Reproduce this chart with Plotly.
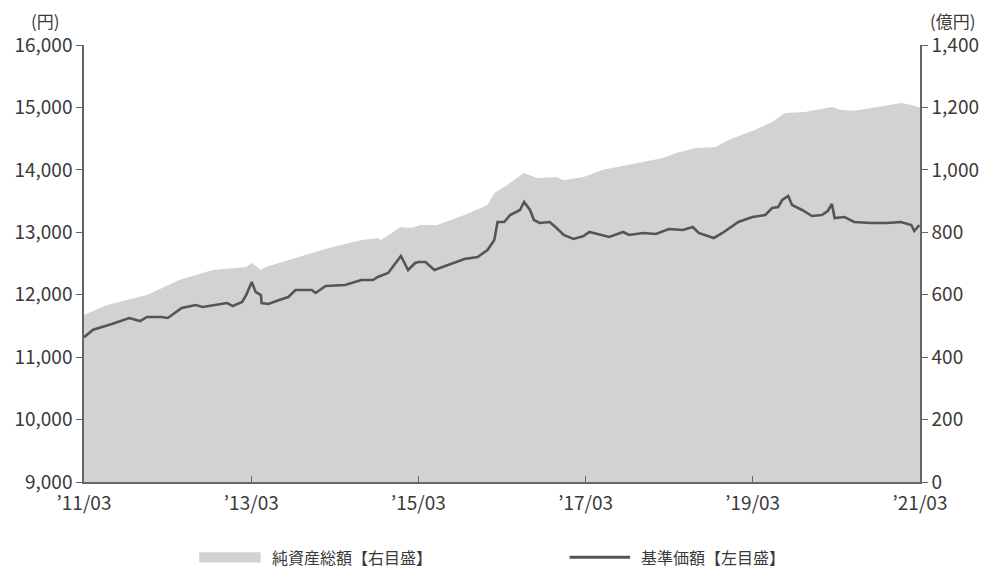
import plotly.graph_objects as go

# 基準価額 (円, left axis)
nav_dates = ["2011-03-01","2011-04-10","2011-07-01","2011-09-15","2011-11-01","2011-12-01","2012-02-01","2012-03-01",
 "2012-05-01","2012-07-01","2012-08-01","2012-09-20","2012-11-15","2012-12-10","2013-01-20","2013-02-07","2013-03-03",
 "2013-03-20","2013-04-12","2013-04-15","2013-05-15","2013-07-01","2013-08-10","2013-09-10","2013-11-20","2013-12-07",
 "2014-01-20","2014-04-15","2014-06-25","2014-08-15","2014-09-05","2014-10-20","2014-12-15","2015-01-15","2015-02-15",
 "2015-03-01","2015-04-01","2015-05-10","2015-07-05","2015-09-18","2015-11-15","2015-12-28","2016-01-27","2016-02-10",
 "2016-03-10","2016-04-05","2016-05-18","2016-06-05","2016-07-01","2016-07-18","2016-08-12","2016-09-25","2016-10-25",
 "2016-11-25","2017-01-07","2017-02-20","2017-03-17","2017-04-17","2017-06-12","2017-08-12","2017-09-07","2017-11-07",
 "2018-01-02","2018-02-28","2018-04-30","2018-06-12","2018-07-08","2018-09-12","2018-10-20","2018-12-28","2019-02-28",
 "2019-04-25","2019-05-25","2019-06-20","2019-07-08","2019-08-03","2019-08-20","2019-10-03","2019-11-15","2019-12-28",
 "2020-01-23","2020-02-10","2020-02-22","2020-04-05","2020-05-18","2020-07-30","2020-10-08","2020-12-08","2021-01-22",
 "2021-02-04","2021-02-26"]
nav_values = [11320,11440,11530,11627,11579,11643,11643,11627,
 11787,11835,11803,11835,11867,11819,11883,11995,12204,
 12044,11995,11867,11851,11915,11963,12076,12076,12028,
 12140,12156,12236,12236,12284,12348,12620,12396,12508,
 12524,12524,12396,12476,12572,12604,12716,12876,13165,
 13165,13277,13357,13485,13357,13197,13149,13165,13069,
 12957,12893,12941,13005,12973,12925,13005,12957,12989,
 12973,13053,13037,13085,12989,12909,12989,13165,13245,
 13277,13389,13405,13517,13581,13437,13357,13261,13277,
 13341,13453,13229,13245,13165,13149,13149,13165,13117,
 13021,13117]

# 純資産総額 (億円, right axis)
aum_dates = ["2011-03-01","2011-06-10","2011-12-01","2012-04-20","2012-09-12","2013-02-07","2013-03-03","2013-04-12",
 "2013-05-03","2013-09-12","2014-02-03","2014-06-25","2014-09-06","2014-09-18","2014-12-15","2015-01-28","2015-03-10",
 "2015-05-22","2015-09-18","2015-12-27","2016-01-27","2016-03-22","2016-06-04","2016-08-01","2016-10-25","2016-11-25",
 "2017-02-20","2017-05-15","2017-09-07","2018-02-03","2018-04-01","2018-06-25","2018-09-20","2018-11-15","2019-03-10",
 "2019-05-25","2019-07-20","2019-10-15","2020-02-10","2020-03-22","2020-05-18","2020-10-10","2020-12-10","2021-01-22",
 "2021-02-18","2021-03-01"]
aum_values = [535,567,599,647,679,689,702,679,
 689,718,750,775,782,775,817,814,823,
 823,855,887,926,951,990,974,977,967,
 977,1000,1016,1038,1054,1070,1073,1096,1128,
 1153,1182,1185,1201,1192,1189,1208,1214,1208,
 1201,1200]

x_tickvals = ["2011-03-01","2013-03-01","2015-03-01","2017-03-01","2019-03-01","2021-03-01"]
x_ticktext = ["’11/03","’13/03","’15/03","’17/03","’19/03","’21/03"]
left_ticks = [9000,10000,11000,12000,13000,14000,15000,16000]
right_ticks = [0,200,400,600,800,1000,1200,1400]

legend_labels = ["純資産総額【右目盛】", "基準価額【左目盛】"]

FONT = "Noto Sans CJK JP"
AREA = "#d1d2d4"
LINE = "#555555"
AX = "#666666"
TXT = "#3a3a3a"

fig = go.Figure()
fig.add_trace(go.Scatter(x=aum_dates, y=aum_values, yaxis="y", mode="lines",
                         line=dict(width=0, color=AREA), fill="tozeroy", fillcolor=AREA,
                         name=legend_labels[0], showlegend=False))
fig.add_trace(go.Scatter(x=nav_dates, y=nav_values, yaxis="y2", mode="lines",
                         line=dict(width=2.6, color=LINE), name=legend_labels[1], showlegend=False))

fig.update_layout(
    width=991, height=572,
    margin=dict(l=84, r=65, t=45, b=90),
    paper_bgcolor="white", plot_bgcolor="white",
    font=dict(family=FONT, size=19, color=TXT),
    xaxis=dict(range=["2011-03-01","2021-03-01"], tickvals=x_tickvals, ticktext=x_ticktext,
               showgrid=False, showline=True, linecolor=AX, linewidth=1.5,
               ticks="inside", ticklen=6, tickcolor=AX, zeroline=False, ticklabelstandoff=3),
    yaxis=dict(range=[0,1400], tickvals=right_ticks, tickformat=",d", side="right",
               showgrid=False, showline=True, linecolor=AX, linewidth=1.5,
               ticks="outside", ticklen=6, tickcolor=AX, zeroline=False),
    yaxis2=dict(range=[9000,16000], tickvals=left_ticks, tickformat=",d", side="left",
                overlaying="y", showgrid=False, showline=True, linecolor=AX, linewidth=1.5,
                ticks="outside", ticklen=6, tickcolor=AX, zeroline=False),
    showlegend=False,
)

fig.add_annotation(text="(円)", xref="paper", yref="paper", x=0, y=1, xanchor="right", yanchor="bottom",
                   xshift=-22, yshift=10, showarrow=False, font=dict(size=17, family=FONT, color=TXT))
fig.add_annotation(text="(億円)", xref="paper", yref="paper", x=1, y=1, xanchor="left", yanchor="bottom",
                   xshift=8, yshift=10, showarrow=False, font=dict(size=17, family=FONT, color=TXT))

# custom legend below the plot
fig.add_shape(type="rect", xref="paper", yref="paper", x0=(200-84)/842, x1=(262-84)/842,
              y0=-0.184, y1=-0.161, fillcolor=AREA, line=dict(width=0))
fig.add_annotation(text=legend_labels[0], xref="paper", yref="paper", x=(271-84)/842, y=-0.172,
                   xanchor="left", yanchor="middle", showarrow=False, font=dict(size=16, family=FONT, color=TXT))
fig.add_shape(type="line", xref="paper", yref="paper", x0=(573-84)/842, x1=(634-84)/842,
              y0=-0.172, y1=-0.172, line=dict(color=LINE, width=3))
fig.add_annotation(text=legend_labels[1], xref="paper", yref="paper", x=(643-84)/842, y=-0.172,
                   xanchor="left", yanchor="middle", showarrow=False, font=dict(size=16, family=FONT, color=TXT))

fig.write_html("out.html", config={"displayModeBar": False},
               post_script="document.body.style.margin='0';document.body.style.padding='0';document.body.style.overflow='hidden';")
